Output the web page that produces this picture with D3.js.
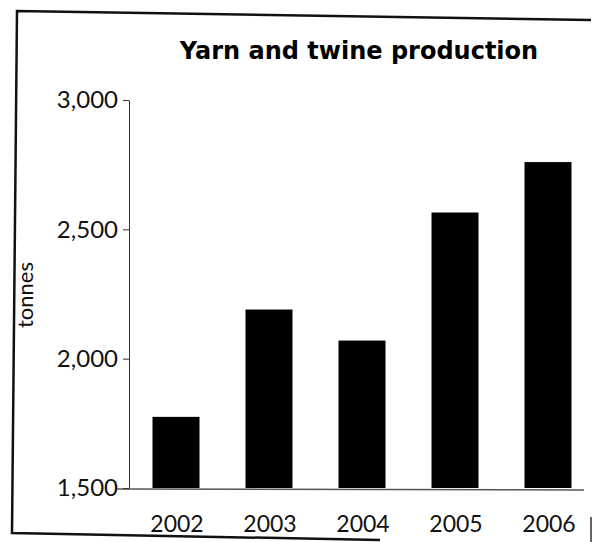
<!DOCTYPE html>
<html>
<head>
<meta charset="utf-8">
<script src="https://cdn.jsdelivr.net/npm/d3@7"></script>
<style>
  html, body { margin: 0; padding: 0; background: #fff; }
  svg { display: block; }
</style>
</head>
<body>
<script>
const years = ["2002", "2003", "2004", "2005", "2006"];
const production = [1775, 2190, 2070, 2565, 2760];
const yTicks = [1500, 2000, 2500, 3000];
const titleText = "Yarn and twine production";
const yLabel = "tonnes";

const W = 592, H = 542;
const svg = d3.select("body").append("svg").attr("width", W).attr("height", H);

// scanned frame
svg.append("path")
  .attr("d", "M591,20 L17,11 L12,533 L380,540")
  .attr("fill", "none").attr("stroke", "#111").attr("stroke-width", 2.5);
svg.append("line").attr("x1", 591).attr("x2", 591).attr("y1", 517).attr("y2", 542)
  .attr("stroke", "#333").attr("stroke-width", 1.5);

const y = d3.scaleLinear().domain([1500, 3000]).range([488, 100]);
const x = d3.scalePoint().domain(years).range([176, 548]);
const barW = 47;

// bars
svg.append("g").selectAll("rect").data(years).join("rect")
  .attr("x", d => x(d) - barW / 2)
  .attr("width", barW)
  .attr("y", (d, i) => y(production[i]))
  .attr("height", (d, i) => y(1500) - y(production[i]))
  .attr("fill", "#000");

// baseline
svg.append("line").attr("x1", 117).attr("x2", 584).attr("y1", y(1500) + 1).attr("y2", y(1500) + 2)
  .attr("stroke", "#555").attr("stroke-width", 1.5);

// y axis
const yAxis = svg.append("g").attr("transform", "translate(129,0)")
  .call(d3.axisLeft(y).tickValues(yTicks).tickFormat(d3.format(",")).tickSize(6).tickSizeOuter(0).tickPadding(5));
yAxis.select(".domain").attr("stroke", "#333").attr("stroke-width", 1);
yAxis.selectAll(".tick line").attr("stroke", "#333").attr("stroke-width", 1);
yAxis.selectAll(".tick text")
  .attr("font-family", "Lato, 'DejaVu Sans', sans-serif")
  .attr("font-size", 24).attr("fill", "#111");

// x labels
svg.append("g").selectAll("text").data(years).join("text")
  .attr("x", d => x(d) + 1)
  .attr("y", 532)
  .attr("text-anchor", "middle")
  .attr("font-family", "Lato, 'DejaVu Sans', sans-serif")
  .attr("font-size", 23).attr("fill", "#111")
  .text(d => d);

// title
svg.append("text").attr("x", 359).attr("y", 59).attr("text-anchor", "middle")
  .attr("font-family", "'DejaVu Sans', sans-serif").attr("font-weight", "bold")
  .attr("font-size", 24).attr("fill", "#000")
  .text(titleText);

// y label
svg.append("text").attr("transform", "translate(33,295) rotate(-90)")
  .attr("text-anchor", "middle")
  .attr("font-family", "Lato, 'DejaVu Sans', sans-serif")
  .attr("font-size", 22).attr("fill", "#111")
  .text(yLabel);
</script>
</body>
</html>
